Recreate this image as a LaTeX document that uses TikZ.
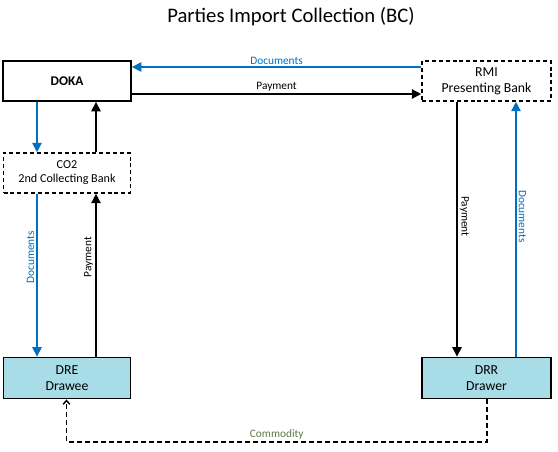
\documentclass[tikz,border=0pt]{standalone}
\usepackage{fontspec}
\setmainfont{Carlito}
\usetikzlibrary{arrows.meta}
\definecolor{docblue}{RGB}{0,112,192}
\definecolor{boxfill}{RGB}{168,220,230}
\definecolor{comgreen}{RGB}{96,118,70}
\newlength{\pxu}
\setlength{\pxu}{0.75pt}
\tikzset{
  box/.style={draw=black, line width=1.4pt, minimum width=127\pxu, minimum height=40\pxu, inner sep=0pt, align=center, font=\fontsize{10.3}{12}\selectfont},
  dbox/.style={box, dash pattern=on 3pt off 2.2pt, line width=1.2pt},
  party/.style={box, fill=boxfill},
  docarrow/.style={draw=docblue, line width=1.1pt, -{Triangle[width=7pt,length=7pt]}},
  payarrow/.style={draw=black, line width=1.1pt, -{Triangle[width=7pt,length=7pt]}},
  comarrow/.style={draw=black, line width=1.1pt, dash pattern=on 3.5pt off 2.5pt, -{Straight Barb[width=5pt,length=2.8pt]}},
  lbl/.style={font=\fontsize{8.5}{10}\selectfont, inner sep=1.5pt},
}
\begin{document}
\begin{tikzpicture}[x=0.75pt, y=-0.75pt]
\useasboundingbox (0,0) rectangle (558,451);
\node[font=\fontsize{15.5}{18}\selectfont] (title) at (291,17) {Parties Import Collection (BC)};

\node[box, minimum width=128\pxu, font=\fontsize{10}{12}\selectfont] (doka) at (67,81) {\textbf{DOKA}};
\node[dbox, font=\fontsize{9.1}{10.5}\selectfont] (co2) at (67,173) {CO2\\2nd Collecting Bank};
\node[dbox, minimum width=129\pxu] (rmi) at (486.5,81) {RMI\\Presenting Bank};
\node[party, minimum height=41\pxu] (dre) at (67,378) {DRE\\Drawee};
\node[party, minimum width=129\pxu, minimum height=41\pxu] (drr) at (486.5,378) {DRR\\Drawer};

\coordinate (yDoc) at (0,67);
\coordinate (yPay) at (0,94);
\coordinate (xL1) at (37,0);
\coordinate (xL2) at (96,0);
\coordinate (xR1) at (457,0);
\coordinate (xR2) at (516,0);
\coordinate (xC1) at (66.5,0);
\coordinate (xC2) at (487,0);
\coordinate (yCom) at (0,442);

% top horizontal
\draw[docarrow] (rmi.west |- yDoc) -- node[lbl, above, text=docblue] {Documents} (doka.east |- yDoc);
\draw[payarrow] (doka.east |- yPay) -- node[lbl, above] {Payment} (rmi.west |- yPay);

% left column
\draw[docarrow] (doka.south -| xL1) -- (co2.north -| xL1);
\draw[payarrow] (co2.north -| xL2) -- (doka.south -| xL2);
\draw[docarrow] (co2.south -| xL1) -- node[lbl, text=docblue, rotate=90, anchor=south, pos=0.39] {Documents} (dre.north -| xL1);
\draw[payarrow] (dre.north -| xL2) -- node[lbl, rotate=90, anchor=south, pos=0.61] {Payment} (co2.south -| xL2);

% right column
\draw[payarrow] (rmi.south -| xR1) -- node[lbl, rotate=-90, anchor=south, pos=0.45] {Payment} (drr.north -| xR1);
\draw[docarrow] (drr.north -| xR2) -- node[lbl, rotate=-90, anchor=south, text=docblue, pos=0.55] {Documents} (rmi.south -| xR2);

% commodity
\draw[comarrow] (drr.south -| xC2) -- (xC2 |- yCom) -- node[lbl, above, text=comgreen] {Commodity} (xC1 |- yCom) -- (dre.south -| xC1);
\end{tikzpicture}
\end{document}
